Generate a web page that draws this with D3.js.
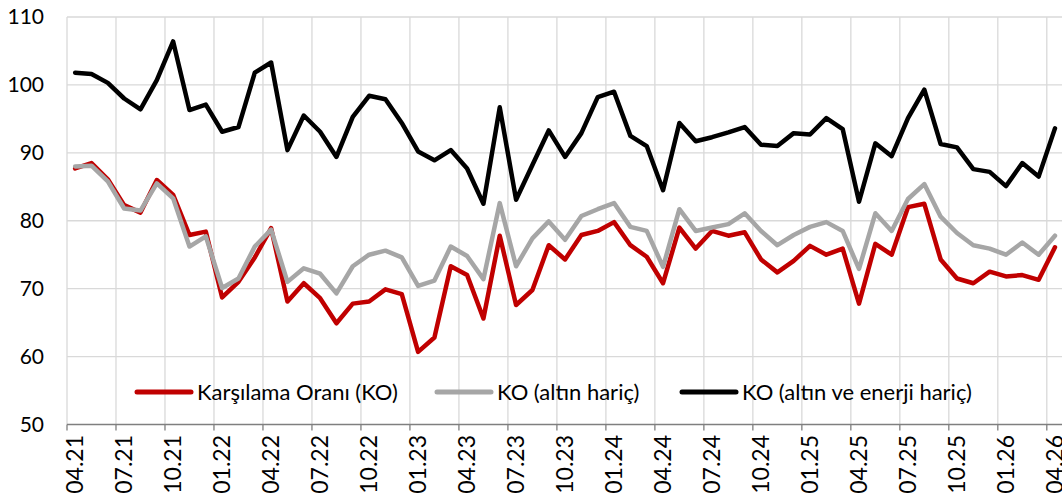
<!DOCTYPE html>
<html lang='en'>
<head>
  <meta charset='utf-8'>
  <script src="https://d3js.org/d3.v7.min.js"></script>
  <title>Karşılama Oranı</title>
  <style>
    body { margin: 0; background: #fff; }
    text { font-family: Lato, "Open Sans", sans-serif; fill: #000; }
  </style>
</head>
<body>
  <div id="chart"></div>

  <script>
    // months, 04.21 -> 04.26
    const months = [
      "04.21","05.21","06.21","07.21","08.21","09.21","10.21","11.21","12.21",
      "01.22","02.22","03.22","04.22","05.22","06.22","07.22","08.22","09.22","10.22","11.22","12.22",
      "01.23","02.23","03.23","04.23","05.23","06.23","07.23","08.23","09.23","10.23","11.23","12.23",
      "01.24","02.24","03.24","04.24","05.24","06.24","07.24","08.24","09.24","10.24","11.24","12.24",
      "01.25","02.25","03.25","04.25","05.25","06.25","07.25","08.25","09.25","10.25","11.25","12.25",
      "01.26","02.26","03.26","04.26"
    ];

    // Karşılama Oranı (KO)
    const ko = [
      87.7, 88.5, 86.1, 82.3, 81.2, 86.0, 83.8, 77.9, 78.4, 68.7, 71.0, 74.6,
      78.9, 68.1, 70.8, 68.6, 64.9, 67.8, 68.1, 69.9, 69.2, 60.7, 62.8, 73.3,
      72.0, 65.6, 77.8, 67.6, 69.8, 76.4, 74.3, 77.9, 78.5, 79.8, 76.4, 74.7,
      70.8, 79.0, 75.9, 78.5, 77.8, 78.3, 74.3, 72.4, 74.1, 76.3, 75.0, 75.9,
      67.8, 76.6, 75.0, 82.0, 82.5, 74.3, 71.5, 70.8, 72.5, 71.8, 72.0, 71.3, 76.1
    ];

    // KO (altın hariç)
    const koGold = [
      88.0, 88.1, 85.8, 81.8, 81.5, 85.5, 83.3, 76.2, 77.7, 70.1, 71.5, 76.2,
      78.7, 71.0, 73.0, 72.2, 69.3, 73.3, 75.0, 75.6, 74.6, 70.4, 71.2, 76.2,
      74.8, 71.4, 82.6, 73.3, 77.4, 79.9, 77.2, 80.7, 81.7, 82.6, 79.1, 78.5,
      73.2, 81.7, 78.5, 79.0, 79.5, 81.1, 78.5, 76.4, 77.9, 79.1, 79.8, 78.5,
      72.9, 81.1, 78.5, 83.2, 85.4, 80.6, 78.2, 76.4, 75.9, 75.0, 76.8, 75.0, 77.8
    ];

    // KO (altın ve enerji hariç)
    const koGoldEnergy = [
      101.8, 101.6, 100.3, 98.0, 96.4, 100.7, 106.4, 96.3, 97.1, 93.1, 93.8, 101.8,
      103.3, 90.4, 95.5, 93.1, 89.4, 95.3, 98.4, 97.9, 94.4, 90.2, 88.9, 90.4,
      87.7, 82.5, 96.7, 83.1, 88.2, 93.3, 89.4, 92.9, 98.2, 99.0, 92.5, 91.0,
      84.5, 94.4, 91.7, 92.3, 93.0, 93.8, 91.2, 91.0, 92.9, 92.7, 95.1, 93.5,
      82.8, 91.4, 89.5, 95.1, 99.3, 91.3, 90.8, 87.6, 87.2, 85.1, 88.5, 86.5, 93.6
    ];

    const yTicks = [50, 60, 70, 80, 90, 100, 110];
    const seriesNames = ["Karşılama Oranı (KO)", "KO (altın hariç)", "KO (altın ve enerji hariç)"];
    const seriesColors = ["#c00000", "#a6a6a6", "#000000"];

    const W = 1062, H = 497;
    const plotLeft = 67, bandW = 16.33;
    const plotTop = 17, plotBottom = 424.5;

    const svg = d3.select("#chart")
      .append("svg")
      .attr("width", W)
      .attr("height", H);

    const x = d3.scaleBand()
      .domain(months)
      .range([plotLeft, plotLeft + months.length * bandW])
      .padding(0);

    const y = d3.scaleLinear()
      .domain([50, 110])
      .range([plotBottom, plotTop]);

    const tickMonths = months.filter((m, i) => i % 3 === 0);

    // gridlines
    svg.append("g")
      .selectAll("line")
      .data(yTicks.slice(1))
      .join("line")
        .attr("x1", plotLeft).attr("x2", W)
        .attr("y1", d => y(d)).attr("y2", d => y(d))
        .attr("stroke", "#d9d9d9")
        .attr("stroke-width", 1.3);

    svg.append("g")
      .selectAll("line")
      .data(tickMonths)
      .join("line")
        .attr("x1", d => x(d)).attr("x2", d => x(d))
        .attr("y1", plotTop).attr("y2", plotBottom)
        .attr("stroke", "#d9d9d9")
        .attr("stroke-width", 1.3);

    // Y axis labels
    const yAxis = svg.append("g")
      .attr("transform", "translate(44,0)")
      .call(d3.axisLeft(y).tickValues(yTicks).tickSize(0).tickPadding(0));
    yAxis.select(".domain").remove();
    yAxis.selectAll("text")
      .style("font-family", "Lato, sans-serif")
      .style("font-size", "21px")
      .attr("fill", "#000");

    // X axis line + ticks (ticks between categories)
    svg.append("line")
      .attr("x1", plotLeft).attr("x2", W)
      .attr("y1", plotBottom).attr("y2", plotBottom)
      .attr("stroke", "#7f7f7f")
      .attr("stroke-width", 1.5);

    svg.append("g")
      .selectAll("line")
      .data(tickMonths)
      .join("line")
        .attr("x1", d => x(d)).attr("x2", d => x(d))
        .attr("y1", plotBottom).attr("y2", plotBottom + 6)
        .attr("stroke", "#7f7f7f")
        .attr("stroke-width", 1.3);

    svg.append("g")
      .selectAll("text")
      .data(tickMonths)
      .join("text")
        .attr("transform", d => `translate(${x(d) + x.bandwidth() / 2}, 435) rotate(-90)`)
        .attr("text-anchor", "end")
        .attr("dy", "0.36em")
        .style("font-size", "23px")
        .text(d => d);

    // Lines
    const line = d3.line()
      .x((d, i) => x(months[i]) + x.bandwidth() / 2)
      .y(d => y(d));

    [ko, koGold, koGoldEnergy].forEach((s, k) => {
      svg.append("path")
        .datum(s)
        .attr("fill", "none")
        .attr("stroke", seriesColors[k])
        .attr("stroke-width", 4.5)
        .attr("stroke-linejoin", "round")
        .attr("stroke-linecap", "round")
        .attr("d", line);
    });

    // legend
    const legendX = [137, 437, 682];
    const legend = svg.append("g")
      .selectAll("g")
      .data(seriesNames)
      .join("g")
        .attr("transform", (d, i) => `translate(${legendX[i]}, 392)`);
    legend.append("line")
      .attr("x1", 0).attr("x2", 54)
      .attr("stroke", (d, i) => seriesColors[i])
      .attr("stroke-width", 5)
      .attr("stroke-linecap", "round");
    legend.append("text")
      .attr("x", 60)
      .attr("dy", "0.35em")
      .style("font-size", "22px")
      .text(d => d);
  </script>
</body>
</html>
